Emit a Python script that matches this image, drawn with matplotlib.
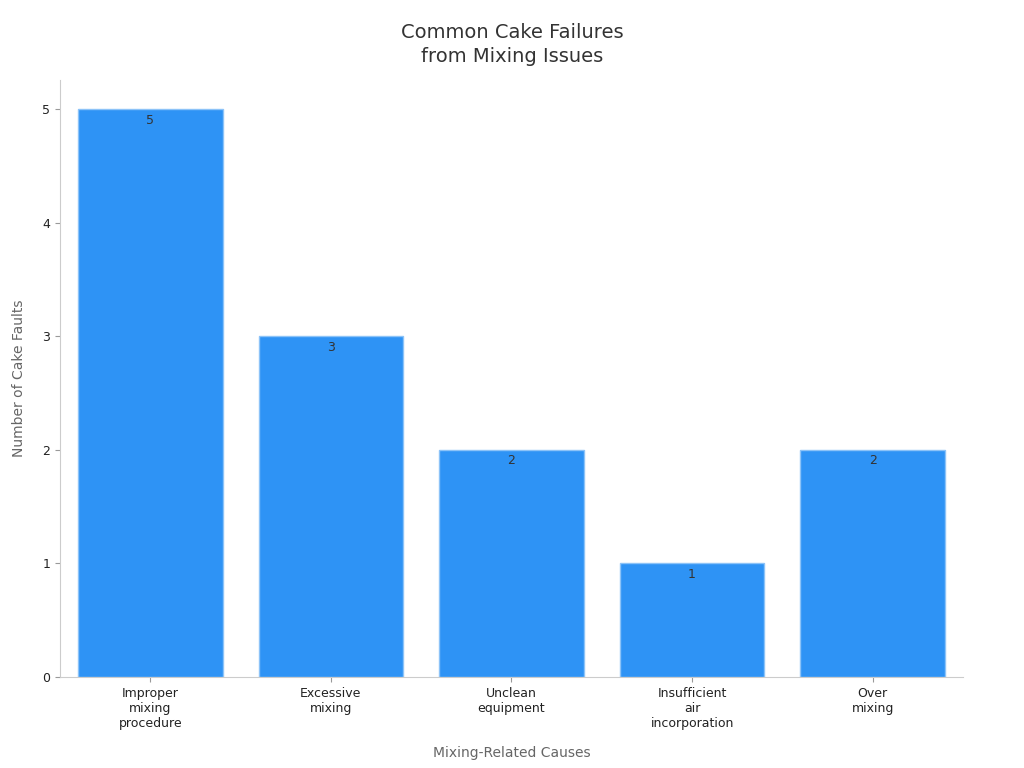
import matplotlib
matplotlib.use("Agg")
import matplotlib.pyplot as plt

categories = ["Improper\nmixing\nprocedure", "Excessive\nmixing", "Unclean\nequipment", "Insufficient\nair\nincorporation", "Over\nmixing"]
values = [5, 3, 2, 1, 2]

fig = plt.figure(figsize=(10.24, 7.68), dpi=100)
ax = fig.add_axes([0.0586, 0.1185, 0.8818, 0.7775])
x = range(len(categories))
bars = ax.bar(x, values, width=0.8, color="#2E93F5", edgecolor="#8CC3F8", linewidth=1)
for b, v in zip(bars, values):
    ax.text(b.get_x() + b.get_width() / 2, v - 0.04, str(v), ha="center", va="top", fontsize=9, color="#333333")
ax.set_xlim(-0.5, 4.5)
ax.set_ylim(0, 5.26)
ax.set_xticks(list(x))
ax.set_xticklabels(categories, fontsize=9, color="#222222")
ax.set_yticks([0, 1, 2, 3, 4, 5])
ax.tick_params(axis="y", labelsize=9, colors="#222222")
ax.tick_params(axis="both", color="#999999")
for s in ["top", "right"]:
    ax.spines[s].set_visible(False)
for s in ["left", "bottom"]:
    ax.spines[s].set_color("#CCCCCC")
ax.set_xlabel("Mixing-Related Causes", fontsize=10, color="#666666", labelpad=12)
ax.set_ylabel("Number of Cake Faults", fontsize=10, color="#666666", labelpad=12)
fig.suptitle("Common Cake Failures\nfrom Mixing Issues", fontsize=14, color="#333333", y=0.97, linespacing=1.35)
fig.savefig("out.png", dpi=100)
